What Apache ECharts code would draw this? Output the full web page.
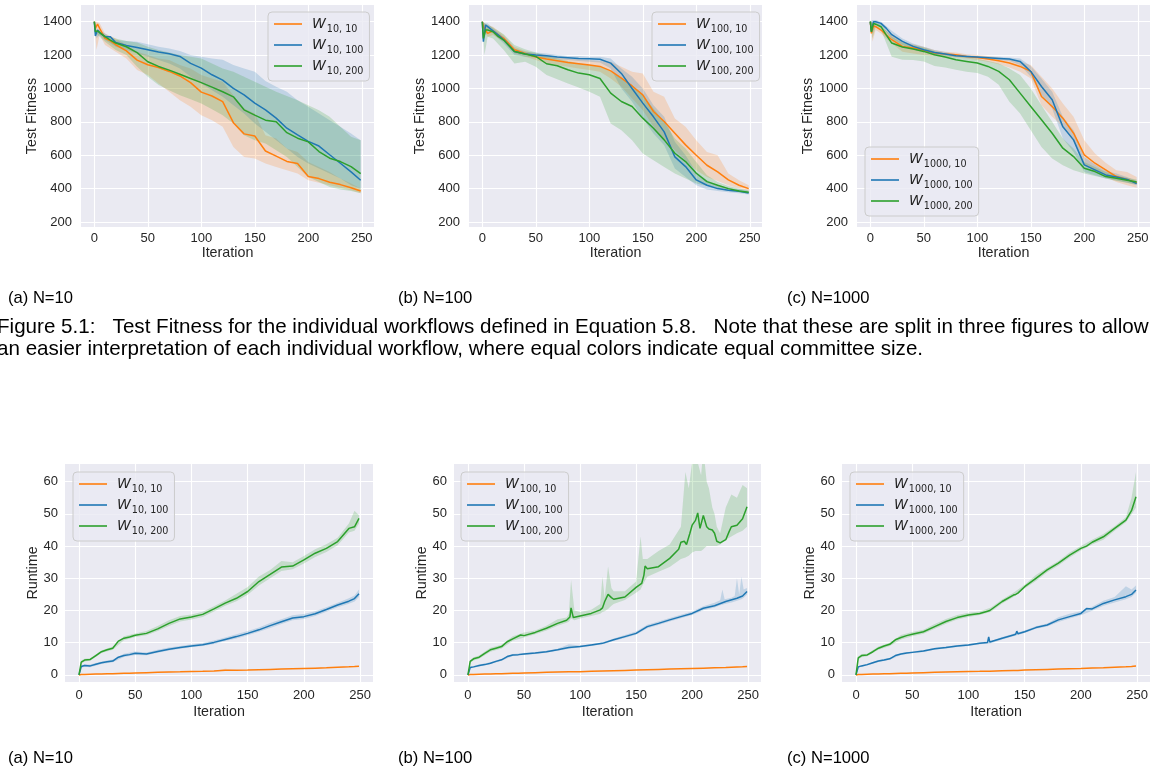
<!DOCTYPE html>
<html><head><meta charset="utf-8">
<script src="https://cdn.jsdelivr.net/npm/echarts@6.0.0/dist/echarts.min.js"></script>
<style>html,body{margin:0;padding:0;background:#fff}#c{width:1152px;height:771px}</style>
</head><body><div id="c"></div>
<script>
// ---------- ticks / extents ----------
const X_TICKS = [0, 50, 100, 150, 200, 250];
const FIT_TICKS = [200, 400, 600, 800, 1000, 1200, 1400];
const RUN_TICKS = [0, 10, 20, 30, 40, 50, 60];
const X_EXTENT = [-12.45, 261.45];
const FIT_EXTENT = [170, 1500];
const RUN_EXTENT = [-2.2, 65.5];
const POPULATIONS = ['10', '100', '1000'];
const COMMITTEES = ['10', '100', '200'];
const SUBCAPTIONS = ['(a) N=10', '(b) N=100', '(c) N=1000'];
const CAPTION_1 = 'Figure 5.1:   Test Fitness for the individual workflows defined in Equation 5.8.   Note that these are split in three figures to allow';
const CAPTION_2 = 'an easier interpretation of each individual workflow, where equal colors indicate equal committee size.';

// ---------- Test fitness: iterations sampled ----------
const TOP_X = [0,1,3,5,10,15,20,30,40,50,60,70,80,90,100,110,120,130,140,150,160,170,180,190,200,210,220,230,240,249];
const TOP_BX = [0,2,5,10,20,30,40,50,60,70,80,90,100,110,120,130,140,150,160,170,180,190,200,210,220,230,240,249];

// N=10
const FIT_N10_W10  = [1400,1360,1385,1360,1300,1285,1262,1225,1170,1142,1125,1102,1075,1035,978,955,921,795,728,715,625,595,563,550,472,460,438,424,405,386];
const FIT_N10_W100 = [1400,1315,1350,1335,1310,1310,1275,1258,1246,1232,1218,1208,1192,1150,1122,1082,1050,1000,962,912,872,822,762,722,683,655,603,552,500,450];
const FIT_N10_W200 = [1400,1340,1345,1335,1310,1290,1272,1250,1215,1160,1132,1110,1085,1060,1035,1008,980,950,872,840,810,800,735,702,680,622,582,562,532,490];
const FIT_N10_W10_LO  = [1400,1230,1320,1260,1220,1180,1110,1080,1030,980,930,890,840,810,770,650,590,580,550,530,510,490,450,435,420,405,390,372];
const FIT_N10_W10_HI  = [1400,1400,1390,1330,1300,1260,1220,1200,1180,1170,1140,1120,1080,1060,1040,960,880,850,720,700,640,620,560,530,500,460,430,400];
const FIT_N10_W100_LO = [1400,1300,1320,1290,1250,1230,1210,1190,1170,1150,1120,1070,1030,990,950,900,850,790,740,690,640,590,550,520,490,460,420,400];
const FIT_N10_W100_HI = [1400,1340,1350,1330,1290,1285,1280,1265,1250,1240,1225,1200,1190,1180,1172,1140,1120,1100,1045,1010,980,930,890,850,810,770,730,690];
const FIT_N10_W200_LO = [1400,1330,1310,1280,1230,1200,1130,1070,1020,990,960,935,910,875,840,790,720,690,670,630,590,530,470,440,410,395,385,372];
const FIT_N10_W200_HI = [1400,1350,1345,1320,1300,1285,1275,1250,1230,1215,1200,1190,1180,1150,1120,1100,1070,1040,1010,980,955,930,900,870,830,770,710,690];

// N=100
const FIT_N100_W10  = [1400,1370,1350,1330,1345,1320,1300,1232,1210,1188,1176,1166,1156,1148,1140,1132,1105,1062,1015,962,862,802,732,662,600,540,500,452,420,400];
const FIT_N100_W100 = [1400,1280,1380,1370,1345,1320,1292,1222,1206,1200,1196,1188,1184,1180,1178,1175,1152,1090,1000,912,830,740,590,532,452,420,400,390,384,374];
const FIT_N100_W200 = [1400,1300,1350,1350,1340,1310,1290,1222,1206,1192,1148,1136,1112,1092,1082,1060,972,922,892,822,762,692,612,562,492,442,420,400,386,378];
const FIT_N100_W10_LO  = [1400,1340,1310,1320,1280,1210,1190,1170,1150,1140,1130,1120,1110,1100,1060,1010,940,870,770,690,630,570,510,470,445,420,400,386];
const FIT_N100_W10_HI  = [1400,1390,1380,1370,1320,1250,1225,1210,1200,1190,1180,1175,1170,1165,1160,1130,1100,1090,980,950,820,770,690,620,600,490,450,420];
const FIT_N100_W100_LO = [1400,1300,1350,1330,1270,1200,1190,1185,1180,1175,1170,1165,1160,1155,1120,1000,920,820,730,660,520,470,420,395,385,378,372,365];
const FIT_N100_W100_HI = [1400,1390,1390,1360,1310,1240,1220,1215,1210,1200,1195,1195,1190,1190,1180,1120,1070,1000,900,830,680,600,500,450,420,405,398,385];
const FIT_N100_W200_LO = [1400,1200,1310,1300,1230,1150,1160,1130,1080,1055,1030,1005,980,950,790,750,690,610,570,530,490,460,430,415,400,385,378,370];
const FIT_N100_W200_HI = [1400,1390,1380,1365,1325,1260,1235,1215,1195,1180,1165,1150,1142,1130,1100,1060,1020,960,880,800,700,640,560,480,440,415,400,388];

// N=1000
const FIT_N1000_W10  = [1400,1330,1375,1370,1350,1320,1292,1252,1242,1228,1212,1206,1202,1192,1186,1176,1166,1152,1132,1102,952,892,822,732,602,552,512,472,455,435];
const FIT_N1000_W100 = [1400,1340,1400,1400,1390,1360,1322,1282,1252,1232,1216,1206,1196,1192,1188,1184,1180,1176,1162,1102,1012,932,770,692,542,512,482,470,455,430];
const FIT_N1000_W200 = [1400,1340,1390,1385,1370,1320,1272,1248,1236,1222,1202,1188,1172,1162,1152,1132,1102,1052,972,892,812,732,642,592,522,502,472,462,450,440];
const FIT_N1000_W10_LO  = [1400,1280,1350,1330,1270,1220,1210,1200,1195,1190,1185,1180,1170,1160,1145,1125,1100,1060,900,830,770,680,540,505,470,440,420,405];
const FIT_N1000_W10_HI  = [1400,1390,1385,1370,1320,1280,1265,1250,1230,1220,1215,1205,1200,1195,1185,1175,1160,1140,1070,1000,910,830,690,610,555,510,500,470];
const FIT_N1000_W100_LO = [1400,1330,1385,1375,1300,1260,1235,1215,1205,1195,1190,1185,1180,1175,1170,1165,1140,1070,960,880,700,620,500,480,460,450,435,420];
const FIT_N1000_W100_HI = [1400,1410,1410,1400,1345,1300,1270,1250,1230,1218,1205,1200,1195,1192,1190,1185,1180,1135,1060,980,830,750,590,545,505,490,470,445];
const FIT_N1000_W200_LO = [1400,1300,1370,1350,1190,1172,1170,1162,1135,1125,1112,1100,1092,1070,1022,920,850,750,650,580,540,510,490,475,460,445,435,425];
const FIT_N1000_W200_HI = [1400,1400,1395,1385,1310,1275,1260,1245,1225,1210,1195,1188,1178,1165,1150,1120,1080,1000,900,800,700,640,560,530,500,480,465,455];

// ---------- Runtime ----------
const BOT_X = [0,2,5,10,15,20,25,30,35,40,45,50,60,70,80,90,100,110,120,130,140,150,160,170,180,190,200,210,220,230,240,245,249];
const BOT_BX = [0,2,5,10,20,30,40,50,60,70,80,90,100,110,120,130,140,150,160,170,180,190,200,210,220,230,240,245,249];

// N=10
const RUN_N10_W10  = [0,0.1,0.15,0.2,0.25,0.3,0.35,0.4,0.45,0.5,0.55,0.6,0.7,0.8,0.9,0.95,1.05,1.1,1.2,1.45,1.45,1.5,1.6,1.7,1.8,1.9,2.0,2.1,2.2,2.35,2.5,2.6,2.7];
const RUN_N10_W100 = [0,2.6,2.9,2.8,3.3,3.8,4.1,4.3,5.5,6.0,6.3,6.7,6.5,7.3,8.0,8.5,9.0,9.4,10.1,11.0,11.9,12.9,14.0,15.3,16.5,17.7,18.1,19.0,20.3,21.7,22.9,23.7,25.2];
const RUN_N10_W200 = [0,4.0,4.6,4.8,6.0,7.2,7.8,8.3,10.5,11.4,11.8,12.3,12.9,14.3,16.0,17.4,18.0,18.8,20.5,22.3,23.8,25.9,29.0,31.2,33.5,33.8,35.7,37.8,39.3,41.4,45.5,46.0,48.6];
const RUN_N10_W10_LO  = [0,0.05,0.1,0.15,0.25,0.35,0.45,0.55,0.65,0.75,0.85,0.9,1.0,1.05,1.15,1.35,1.4,1.45,1.55,1.65,1.75,1.85,1.95,2.05,2.15,2.3,2.45,2.55,2.6];
const RUN_N10_W10_HI  = [0,0.15,0.2,0.25,0.35,0.45,0.55,0.65,0.75,0.85,0.95,1.0,1.1,1.15,1.25,1.9,1.5,1.55,1.65,1.75,1.85,1.95,2.05,2.15,2.25,2.4,2.55,2.65,2.8];
const RUN_N10_W100_LO = [0,2.2,2.5,2.4,3.4,3.9,5.6,6.2,6.1,6.9,7.6,8.1,8.6,9.0,9.6,10.5,11.3,12.3,13.4,14.6,15.8,17.0,17.4,18.3,19.6,21.0,22.1,22.8,24.2];
const RUN_N10_W100_HI = [0,3.0,3.3,3.2,4.2,4.8,6.6,7.3,7.0,7.8,8.5,9.0,9.5,9.9,10.7,11.6,12.6,13.6,14.7,16.1,17.3,18.5,18.9,19.8,21.0,22.4,23.8,24.7,26.5];
const RUN_N10_W200_LO = [0,3.5,4.2,4.4,6.8,7.8,10.8,11.8,12.3,13.6,15.2,16.6,17.2,18.0,19.7,21.5,22.9,24.9,27.8,30.0,32.3,32.8,34.6,36.6,38.2,40.3,44.2,44.8,47.0];
const RUN_N10_W200_HI = [0,4.5,5.0,5.2,7.6,8.8,12.0,12.9,13.6,15.2,17.0,18.3,18.8,19.6,21.3,23.1,25.2,27.3,30.6,32.6,35.4,35.0,36.9,39.0,40.6,42.6,47.0,51.0,49.6];

// N=100
const RUN_N100_W10  = [0,0.1,0.15,0.2,0.25,0.3,0.35,0.4,0.45,0.5,0.55,0.6,0.7,0.8,0.9,0.95,1.0,1.1,1.2,1.3,1.4,1.5,1.6,1.7,1.8,1.9,2.0,2.1,2.2,2.3,2.45,2.5,2.6];
const RUN_N100_W100 = [0,2.3,2.5,2.9,3.2,3.6,4.2,4.7,5.7,6.2,6.3,6.5,6.8,7.2,7.8,8.5,8.8,9.3,9.8,10.9,11.9,12.9,15.0,16.0,17.1,18.1,19.1,20.7,21.5,22.8,23.8,24.5,25.9];
const RUN_N100_W200_X = [0,2,5,10,15,20,25,30,35,40,47,50,60,70,80,88,91,92,94,100,110,118,120,122,125,128,130,140,150,155,157,158,160,170,180,188,190,193,195,198,200,203,205,207,210,213,215,218,220,222,225,230,233,235,240,245,249];
const RUN_N100_W200 = [0,4.2,5.0,5.5,6.7,7.8,8.3,8.8,10.3,11.2,12.4,12.2,13.2,14.5,16.0,17.0,18.0,20.8,17.8,18.3,19.1,20.2,20.8,22.8,25.0,24.0,23.5,24.2,27.2,28.4,31.0,33.8,33.0,33.6,36.2,39.0,41.2,41.5,40.5,44.0,46.5,48.0,50.3,45.5,49.5,46.0,45.3,45.0,44.0,41.5,41.0,42.0,44.5,46.0,46.5,48.5,52.2];
const RUN_N100_W10_LO  = [0,0.05,0.1,0.15,0.25,0.35,0.45,0.55,0.65,0.75,0.85,0.9,0.95,1.05,1.15,1.25,1.35,1.45,1.55,1.65,1.75,1.85,1.95,2.05,2.15,2.25,2.4,2.45,2.5];
const RUN_N100_W10_HI  = [0,0.15,0.2,0.25,0.35,0.45,0.55,0.65,0.75,0.85,0.95,1.0,1.05,1.15,1.25,1.35,1.45,1.55,1.65,1.75,1.85,1.95,2.05,2.15,2.25,2.35,2.5,2.55,2.7];
const RUN_N100_W100_BX = [0,2,5,10,20,30,40,50,60,70,80,90,100,110,120,130,140,150,160,170,180,190,200,210,220,225,227,229,235,238,240,242,244,246,249];
const RUN_N100_W100_LO = [0,2.0,2.2,2.6,3.3,4.4,5.9,6.2,6.5,6.9,7.5,8.1,8.5,9.0,9.5,10.5,11.5,12.5,14.5,15.5,16.6,17.6,18.6,20.1,20.9,21.6,21.8,22.0,22.5,22.8,23.0,23.3,23.5,24.0,25.0];
const RUN_N100_W100_HI = [0,2.6,2.8,3.2,3.9,5.0,6.5,6.8,7.1,7.5,8.1,9.5,9.1,9.6,10.1,11.3,12.4,13.5,15.6,16.6,17.7,18.7,19.7,21.3,22.4,23.2,26.5,23.5,24.0,24.5,30.0,25.0,30.5,26.5,27.0];
const RUN_N100_W200_BX = [0,2,5,10,20,30,40,50,60,70,80,88,90,92,95,100,110,118,120,122,125,128,130,140,150,154,156,160,170,180,190,194,197,200,203,205,208,210,213,215,218,220,222,225,230,235,240,245,249];
const RUN_N100_W200_LO = [0,3.8,4.5,5.0,7.2,8.2,10.6,11.6,12.6,13.8,15.3,16.2,16.5,17.5,17.0,17.5,18.3,19.0,19.5,19.8,20.5,21.5,22.0,23.3,25.5,26.5,28.0,30.5,32.0,33.5,36.0,36.5,37.0,38.0,38.5,38.5,38.5,39.0,40.0,40.0,40.0,40.0,40.0,40.5,42.0,43.0,44.0,44.8,46.0];
const RUN_N100_W200_HI = [0,4.6,5.5,6.0,8.4,9.4,12.0,13.2,13.8,15.3,17.3,17.8,19.0,29.5,20.0,19.5,20.2,22.0,30.5,24.0,33.7,27.0,26.0,26.0,29.0,43.0,36.0,36.0,38.5,40.5,46.0,63.0,58.0,66.0,70.0,66.0,62.0,70.0,60.0,58.0,52.0,50.0,46.0,44.0,52.0,56.0,55.0,59.0,58.0];

// N=1000
const RUN_N1000_X = [0,2,5,10,15,20,25,30,35,40,45,50,60,70,80,90,100,110,117,118,119,120,130,140,142,143,144,150,160,170,180,190,200,205,210,220,230,240,245,249];
const RUN_N1000_W10  = [0,0.1,0.15,0.2,0.25,0.3,0.35,0.4,0.45,0.5,0.55,0.6,0.7,0.8,0.9,1.0,1.05,1.1,1.15,1.15,1.15,1.2,1.3,1.4,1.4,1.4,1.4,1.5,1.6,1.7,1.8,1.9,2.0,2.1,2.15,2.25,2.4,2.55,2.65,2.8];
const RUN_N1000_W100 = [0,2.5,2.8,3.2,3.8,4.3,4.6,5.0,6.0,6.5,6.8,7.0,7.4,8.1,8.5,9.0,9.3,9.8,10.1,11.8,10.2,10.1,11.4,12.4,12.6,13.6,12.8,13.4,14.7,15.5,17.1,18.1,19.1,20.6,20.5,22.2,23.3,24.3,25.0,26.4];
const RUN_N1000_W200 = [0,5.3,6.0,6.2,7.2,8.3,9.0,9.5,10.9,11.6,12.2,12.6,13.4,15.0,16.6,17.8,18.6,19.1,19.8,20.0,20.0,20.2,22.8,24.8,25.0,25.2,25.4,27.4,30.0,32.6,34.7,37.2,39.3,40.0,41.2,42.9,45.5,48.1,51.0,55.3];
const RUN_N1000_W10_LO  = [0,0.05,0.1,0.15,0.25,0.35,0.45,0.55,0.65,0.75,0.85,0.95,1.0,1.05,1.15,1.25,1.35,1.45,1.55,1.65,1.75,1.85,1.95,2.1,2.2,2.35,2.5,2.55,2.7];
const RUN_N1000_W10_HI  = [0,0.15,0.2,0.25,0.35,0.45,0.55,0.65,0.75,0.85,0.95,1.05,1.1,1.15,1.25,1.35,1.45,1.55,1.65,1.75,1.85,1.95,2.05,2.2,2.3,2.45,2.6,2.75,2.9];
const RUN_N1000_W100_LO = [0,2.2,2.5,2.9,4.0,4.7,6.2,6.7,7.1,7.8,8.2,8.7,9.0,9.5,9.8,11.0,12.0,13.0,14.3,15.0,16.4,17.5,18.5,19.9,21.5,22.5,23.5,24.2,25.5];
const RUN_N1000_W100_HI = [0,2.8,3.1,3.5,4.6,5.3,6.8,7.3,7.7,8.4,8.8,9.3,9.6,10.1,10.5,11.8,12.8,13.8,15.1,16.0,17.9,19.0,19.8,21.2,23.0,24.2,27.5,26.5,27.8];
const RUN_N1000_W200_LO = [0,4.8,5.5,5.8,7.8,9.0,11.0,12.0,12.8,14.3,15.9,17.2,18.0,18.6,19.6,22.2,24.2,26.8,29.2,31.9,34.0,36.5,38.6,40.5,42.0,44.8,47.4,49.8,52.0];
const RUN_N1000_W200_HI = [0,5.8,6.5,6.6,8.8,10.0,12.4,13.3,14.0,15.8,17.4,18.6,19.3,19.7,20.9,23.4,25.5,28.0,31.0,33.3,35.4,38.0,40.0,42.0,43.8,46.2,49.0,55.0,63.0];

// ---------- layout / style ----------
const FONT = '"Liberation Sans", Arial, sans-serif';
const MATH = '"DejaVu Sans", sans-serif';
const TXT = '#262626';
const BG = '#EAEAF2';
const COLORS = ['#ff7f0e', '#1f77b4', '#2ca02c'];

const PANELS = [
  {kind:'fit', pop:0, grid:{left:81, top:5, width:293, height:222}, legend:{left:268, top:12}, yMargin:9, yGap:37, xGap:15, xMargin:5,
   lines:[[TOP_X,FIT_N10_W10],[TOP_X,FIT_N10_W100],[TOP_X,FIT_N10_W200]],
   bands:[[TOP_BX,FIT_N10_W10_LO,FIT_N10_W10_HI],[TOP_BX,FIT_N10_W100_LO,FIT_N10_W100_HI],[TOP_BX,FIT_N10_W200_LO,FIT_N10_W200_HI]]},
  {kind:'fit', pop:1, grid:{left:469, top:5, width:293, height:222}, legend:{left:652, top:12}, yMargin:9, yGap:37, xGap:15, xMargin:5,
   lines:[[TOP_X,FIT_N100_W10],[TOP_X,FIT_N100_W100],[TOP_X,FIT_N100_W200]],
   bands:[[TOP_BX,FIT_N100_W10_LO,FIT_N100_W10_HI],[TOP_BX,FIT_N100_W100_LO,FIT_N100_W100_HI],[TOP_BX,FIT_N100_W200_LO,FIT_N100_W200_HI]]},
  {kind:'fit', pop:2, grid:{left:857, top:5, width:293, height:222}, legend:{left:865, top:147}, yMargin:9, yGap:37, xGap:15, xMargin:5,
   lines:[[TOP_X,FIT_N1000_W10],[TOP_X,FIT_N1000_W100],[TOP_X,FIT_N1000_W200]],
   bands:[[TOP_BX,FIT_N1000_W10_LO,FIT_N1000_W10_HI],[TOP_BX,FIT_N1000_W100_LO,FIT_N1000_W100_HI],[TOP_BX,FIT_N1000_W200_LO,FIT_N1000_W200_HI]]},
  {kind:'run', pop:0, grid:{left:65, top:464, width:308, height:218}, legend:{left:73, top:472}, yMargin:7, yGap:25, xGap:23, xMargin:7,
   lines:[[BOT_X,RUN_N10_W10],[BOT_X,RUN_N10_W100],[BOT_X,RUN_N10_W200]],
   bands:[[BOT_BX,RUN_N10_W10_LO,RUN_N10_W10_HI],[BOT_BX,RUN_N10_W100_LO,RUN_N10_W100_HI],[BOT_BX,RUN_N10_W200_LO,RUN_N10_W200_HI]]},
  {kind:'run', pop:1, grid:{left:454, top:464, width:307, height:218}, legend:{left:461, top:472}, yMargin:7, yGap:25, xGap:23, xMargin:7,
   lines:[[BOT_X,RUN_N100_W10],[BOT_X,RUN_N100_W100],[RUN_N100_W200_X,RUN_N100_W200]],
   bands:[[BOT_BX,RUN_N100_W10_LO,RUN_N100_W10_HI],[RUN_N100_W100_BX,RUN_N100_W100_LO,RUN_N100_W100_HI],[RUN_N100_W200_BX,RUN_N100_W200_LO,RUN_N100_W200_HI]]},
  {kind:'run', pop:2, grid:{left:842, top:464, width:308, height:218}, legend:{left:850, top:472}, yMargin:7, yGap:25, xGap:23, xMargin:7,
   lines:[[RUN_N1000_X,RUN_N1000_W10],[RUN_N1000_X,RUN_N1000_W100],[RUN_N1000_X,RUN_N1000_W200]],
   bands:[[BOT_BX,RUN_N1000_W10_LO,RUN_N1000_W10_HI],[BOT_BX,RUN_N1000_W100_LO,RUN_N1000_W100_HI],[BOT_BX,RUN_N1000_W200_LO,RUN_N1000_W200_HI]]}
];

const CAPTION_POS = {subX:[8, 398, 787], row1Y:298, row2Y:758, subSize:16.6,
  line1:{x:-3, y:327}, line2:{x:-3, y:349}, capSize:20.6};

function rgba(hex, a) {
  const n = parseInt(hex.slice(1), 16);
  return 'rgba(' + (n >> 16 & 255) + ',' + (n >> 8 & 255) + ',' + (n & 255) + ',' + a + ')';
}
function seriesName(pop, k) { return 'W_{' + POPULATIONS[pop] + ', ' + COMMITTEES[k] + '}'; }

const grids = [], xAxes = [], yAxes = [], series = [], legends = [];
PANELS.forEach(function (p, i) {
  grids.push(Object.assign({show:true, backgroundColor:BG, borderWidth:0}, p.grid));
  const tickStyle = {fontFamily:FONT, fontSize:13, color:TXT, formatter:function (v) { return String(v); }};
  const nameStyle = {fontFamily:FONT, fontSize:14.3, color:TXT};
  xAxes.push({type:'value', gridIndex:i, min:X_EXTENT[0], max:X_EXTENT[1],
    name:'Iteration', nameLocation:'middle', nameGap:p.xGap, nameTextStyle:nameStyle,
    axisLine:{show:false}, axisTick:{show:false, customValues:X_TICKS},
    axisLabel:Object.assign({customValues:X_TICKS, margin:p.xMargin}, tickStyle),
    splitLine:{show:true, lineStyle:{color:'#ffffff', width:1.1}}});
  const fit = p.kind === 'fit';
  const ticks = fit ? FIT_TICKS : RUN_TICKS;
  const ext = fit ? FIT_EXTENT : RUN_EXTENT;
  yAxes.push({type:'value', gridIndex:i, min:ext[0], max:ext[1],
    name: fit ? 'Test Fitness' : 'Runtime', nameLocation:'middle', nameGap:p.yGap, nameTextStyle:nameStyle,
    axisLine:{show:false}, axisTick:{show:false, customValues:ticks},
    axisLabel:Object.assign({customValues:ticks, margin:p.yMargin}, tickStyle),
    splitLine:{show:true, lineStyle:{color:'#ffffff', width:1.1}}});
  // confidence bands (drawn below all lines)
  p.bands.forEach(function (b, k) {
    const bx = b[0], lo = b[1], hi = b[2];
    series.push({type:'custom', xAxisIndex:i, yAxisIndex:i, silent:true, z:1, name:'band' + i + k,
      data: bx.map(function (x, j) { return [x, lo[j], hi[j]]; }),
      encode:{x:0, y:[1, 2]},
      renderItem: function (params, api) {
        if (params.dataIndex !== 0) return null;
        const up = bx.map(function (x, j) { return api.coord([x, hi[j]]); });
        const dn = bx.map(function (x, j) { return api.coord([x, lo[j]]); }).reverse();
        const cs = params.coordSys;
        return {type:'polygon', shape:{points:up.concat(dn)},
          style:{fill:rgba(COLORS[k], 0.2)},
          clipPath:{type:'rect', shape:{x:cs.x, y:cs.y, width:cs.width, height:cs.height}}};
      }});
  });
  p.lines.forEach(function (l, k) {
    const xs = l[0], ys = l[1];
    series.push({type:'line', name:seriesName(p.pop, k), xAxisIndex:i, yAxisIndex:i, z:3,
      data: xs.map(function (x, j) { return [x, ys[j]]; }),
      symbol:'none', showSymbol:false, silent:true, clip:true,
      lineStyle:{color:COLORS[k], width:1.5}, itemStyle:{color:COLORS[k]},
      emphasis:{disabled:true}});
  });
  legends.push({left:p.legend.left, top:p.legend.top, orient:'vertical', selectedMode:false,
    data: COMMITTEES.map(function (c, k) { return seriesName(p.pop, k); }),
    icon:'rect', itemWidth:28, itemHeight:1.6, itemGap:4, padding:[5, 6, 5, 6],
    backgroundColor:'rgba(234,234,242,0.8)', borderColor:'#cccccc', borderWidth:1, borderRadius:4,
    itemStyle:{borderWidth:0},
    formatter: function (name) { return name.replace(/^W_\{(.*)\}$/, '{w|W}{s|$1}'); },
    textStyle:{rich:{
      w:{fontFamily:MATH, fontStyle:'italic', fontSize:14, color:TXT, lineHeight:20, padding:[0,0,0,5]},
      s:{fontFamily:MATH, fontSize:9.6, color:TXT, lineHeight:10, verticalAlign:'bottom', padding:[0,0,0,1]}
    }}});
});

const graphics = [];
SUBCAPTIONS.forEach(function (t, k) {
  [CAPTION_POS.row1Y, CAPTION_POS.row2Y].forEach(function (y) {
    graphics.push({type:'text', x:CAPTION_POS.subX[k], y:y,
      style:{text:t, font:CAPTION_POS.subSize + 'px ' + FONT, fill:'#000', verticalAlign:'middle'}});
  });
});
graphics.push({type:'text', x:CAPTION_POS.line1.x, y:CAPTION_POS.line1.y,
  style:{text:CAPTION_1, font:CAPTION_POS.capSize + 'px ' + FONT, fill:'#000', verticalAlign:'middle'}});
graphics.push({type:'text', x:CAPTION_POS.line2.x, y:CAPTION_POS.line2.y,
  style:{text:CAPTION_2, font:CAPTION_POS.capSize + 'px ' + FONT, fill:'#000', verticalAlign:'middle'}});

const chart = echarts.init(document.getElementById('c'), null, {renderer:'canvas'});
chart.setOption({
  animation:false,
  backgroundColor:'#ffffff',
  grid:grids, xAxis:xAxes, yAxis:yAxes, series:series, legend:legends, graphic:graphics
});
</script></body></html>
